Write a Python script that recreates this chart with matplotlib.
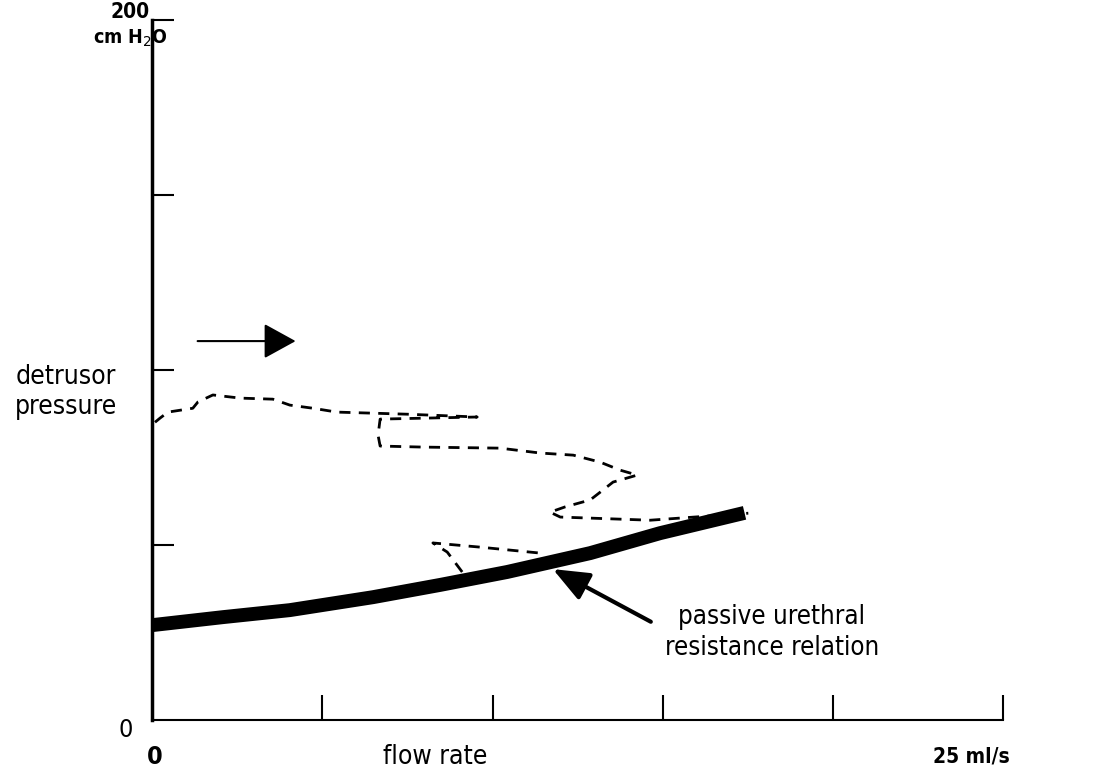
import matplotlib
matplotlib.use('Agg')
import matplotlib.pyplot as plt

# pressure-flow trace (ml/s, cm H2O)
trace_flow = [0.09, 0.24, 0.47, 1.20, 1.35, 1.79, 2.59, 3.55, 4.05, 4.73, 5.43,
              7.5, 9.55, 6.7, 6.64, 6.70, 7.96, 10.22, 11.40, 12.37, 13.16,
              13.75, 14.25, 13.54, 13.16, 12.87, 12.13, 11.69, 11.99, 14.63, 17.51]
trace_pres = [85.1, 86.3, 88.0, 89.1, 90.9, 92.9, 92.0, 91.7, 90.0, 89.1, 88.0,
              87.4, 86.6, 86.0, 81.4, 78.3, 78.0, 77.7, 76.3, 75.7, 73.7,
              71.4, 70.0, 68.0, 65.1, 62.9, 60.9, 59.4, 58.0, 57.1, 59.1]

branch_flow = [9.11, 8.67, 8.25, 9.64, 11.40]
branch_pres = [42.3, 48.0, 50.6, 49.4, 47.7]

# passive urethral resistance relation
purr_flow = [0.0, 2.09, 4.05, 6.49, 8.46, 10.43, 12.87, 14.92, 17.4]
purr_pres = [27.1, 29.4, 31.4, 35.1, 38.6, 42.3, 47.7, 53.4, 59.2]

x_ticks = [5, 10, 15, 20, 25]
y_ticks = [50, 100, 150, 200]

narrow = dict(family=['DejaVu Sans'], fontstretch='condensed')

fig = plt.figure(figsize=(10.93, 7.74), dpi=100)
ax = fig.add_axes([0.139, 0.0698, 0.779, 0.904])
ax.set_xlim(0, 25)
ax.set_ylim(0, 200)

ax.plot(trace_flow, trace_pres, color='black', lw=2, linestyle=(0, (4, 3)))
ax.plot(branch_flow, branch_pres, color='black', lw=2, linestyle=(0, (4, 3)))
ax.plot(purr_flow, purr_pres, color='black', lw=10, solid_capstyle='butt')

for s in ['top', 'right']:
    ax.spines[s].set_visible(False)
ax.spines['left'].set_linewidth(2.5)
ax.spines['bottom'].set_linewidth(1.5)

ax.set_xticks(x_ticks)
ax.set_yticks(y_ticks)
ax.set_xticklabels([])
ax.set_yticklabels([])
ax.tick_params(axis='x', direction='in', length=18, width=1.5)
ax.tick_params(axis='y', direction='in', length=16, width=1.5)

# arrows
ax.annotate('', xy=(4.3, 108.3), xytext=(1.26, 108.3),
            arrowprops=dict(arrowstyle='-|>,head_length=2.0,head_width=1.1',
                            color='black', lw=1.5))
ax.annotate('', xy=(11.7, 43.5), xytext=(14.72, 27.7),
            arrowprops=dict(arrowstyle='-|>,head_length=2.2,head_width=0.9',
                            color='black', lw=3))

# labels
fig.text(0.119, 0.985, '200', ha='center', va='center', fontsize=15,
         fontweight='bold', **narrow)
fig.text(0.119, 0.951, 'cm H$_2$O', ha='center', va='center', fontsize=14,
         fontweight='bold', **narrow)
fig.text(0.06, 0.493, 'detrusor\npressure', ha='center', va='center',
         fontsize=19, linespacing=1.2, **narrow)
fig.text(0.115, 0.057, '0', ha='center', va='center', fontsize=18, **narrow)
fig.text(0.142, 0.022, '0', ha='center', va='center', fontsize=18,
         fontweight='bold', **narrow)
fig.text(0.398, 0.022, 'flow rate', ha='center', va='center', fontsize=19,
         **narrow)
fig.text(0.889, 0.022, '25 ml/s', ha='center', va='center', fontsize=15,
         fontweight='bold', **narrow)
fig.text(0.706, 0.183, 'passive urethral\nresistance relation', ha='center',
         va='center', fontsize=18.5, linespacing=1.25, **narrow)

fig.savefig('out.png', dpi=100)
